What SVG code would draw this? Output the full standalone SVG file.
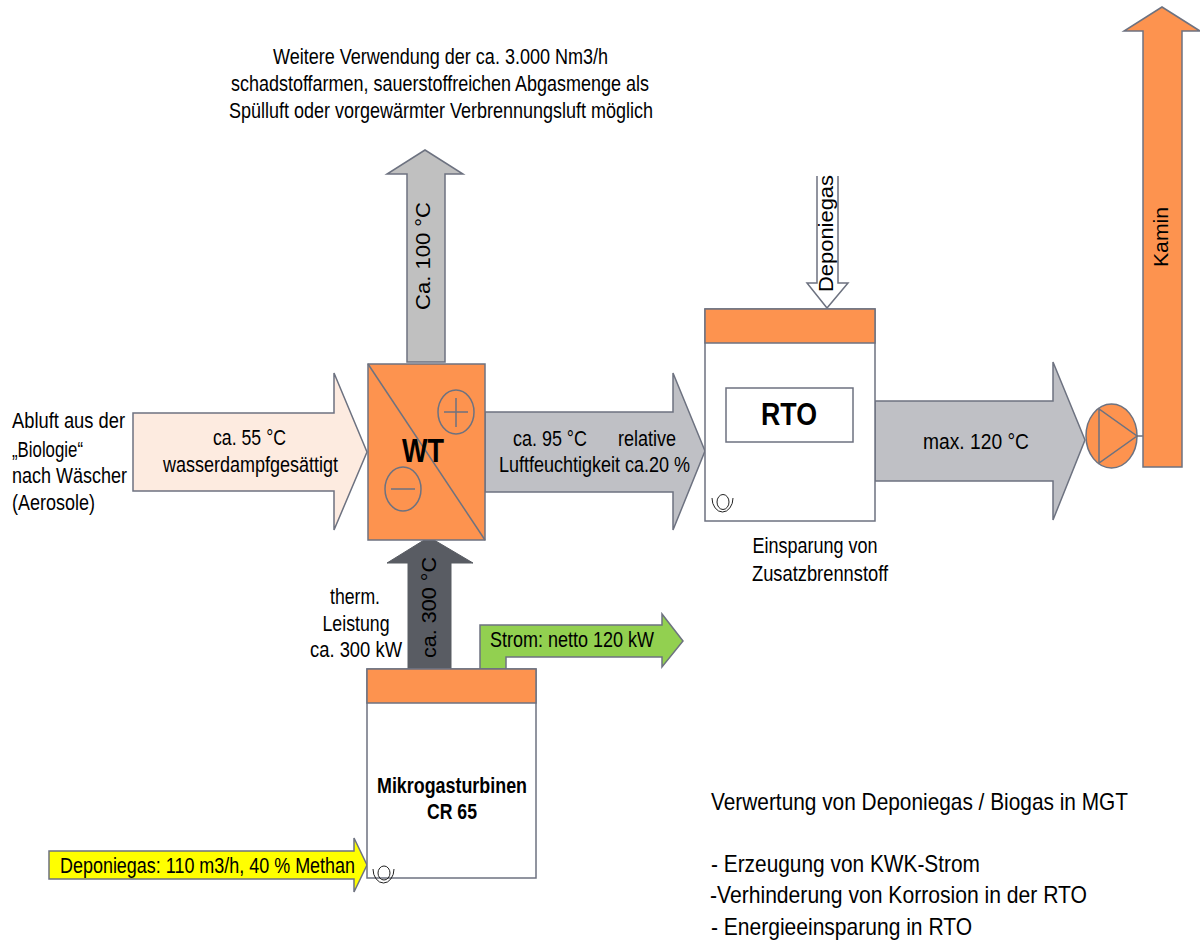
<svg xmlns="http://www.w3.org/2000/svg" width="1200" height="940" viewBox="0 0 1200 940">
<style>
text{font-family:"Liberation Sans",Arial,sans-serif;font-size:21.5px;fill:#000}
.m{text-anchor:middle}
.b{font-weight:bold}
.r{font-size:20px}
.l{font-size:24px}
.o{fill:#fd934f}
.s{stroke:#6d7280;stroke-width:1.5}
.g{fill:#bfc0c5}
.w{fill:#fff}
.n{fill:none}
.k{fill:none;stroke:#222;stroke-width:1}
</style>
<rect width="1200" height="940" fill="#fff"/>
<g id="connectors">
<path id="abluft" class="s" fill="#fdebe0" d="M133 413H334V373L367 452L334 530V491H133Z"/>
<path id="ca100" class="s" fill="#c0c0c0" d="M407 362V174H387L425 150L463 174H445V362Z"/>
<path id="ca95" class="s g" d="M485 412H673V373L705 451L673 530V492H485Z"/>
<path id="ca120" class="s g" d="M875 401H1053V362L1085 440L1053 520V481H875Z"/>
<path id="ca300" fill="#595c63" stroke="#595c63" d="M408 669V563H387L429 537L473 563H451V669Z"/>
<path id="strom" class="s" fill="#92d050" d="M480 669V625H662V614L683 641L662 667V657H506V669Z"/>
<path id="deponie1" class="s w" d="M817 176V283H807L827 308L848 283H838V176"/>
<path id="deponie2" class="s" fill="#ffff00" d="M49 851H354V838L367 865L354 892V879H49Z"/>
<path id="pipe" class="s n" d="M1137 436H1143"/>
<path id="kamin" class="s o" d="M1143 467V31H1124L1162 7L1200 31H1182V467Z"/>
</g>
<g id="wt">
<rect class="s o" x="368" y="364" width="117" height="176"/>
<path class="s n" d="M368 364L485 540"/>
<ellipse class="s n" cx="456" cy="412" rx="18" ry="22"/>
<path class="s n" d="M444 412H468M456 398V427"/>
<ellipse class="s n" cx="403" cy="489" rx="18" ry="22"/>
<path class="s n" d="M391 489H415"/>
<text class="m b" x="423" y="462" style="font-size:33px" textLength="42" lengthAdjust="spacingAndGlyphs">WT</text>
</g>
<g id="rto">
<rect class="s w" x="705" y="309" width="170" height="212"/>
<rect class="s o" x="705" y="309" width="170" height="34"/>
<rect class="s w" x="726" y="388" width="127" height="54"/>
<text class="m b" x="789" y="425" style="font-size:32px" textLength="56" lengthAdjust="spacingAndGlyphs">RTO</text>
<ellipse class="k" cx="723" cy="502" rx="6" ry="7.500"/>
<path class="k" d="M712 498A10.500 14 0 0 0 733 498"/>
</g>
<g id="mgt">
<rect class="s w" x="367" y="669" width="169" height="209"/>
<rect class="s o" x="367" y="669" width="169" height="34"/>
<text class="m b" x="452" y="793" textLength="150" lengthAdjust="spacingAndGlyphs">Mikrogasturbinen</text>
<text class="m b" x="452" y="819" textLength="50" lengthAdjust="spacingAndGlyphs">CR 65</text>
<ellipse class="k" cx="384" cy="873" rx="6" ry="7"/>
<path class="k" d="M373 869A10.500 14 0 0 0 394 869"/>
</g>
<g id="pump">
<ellipse class="s o" cx="1111.500" cy="436" rx="25.500" ry="32"/>
<path class="s n" d="M1099 409V463L1137 436Z"/>
</g>
<g id="labels">
<text x="273" y="64" textLength="335" lengthAdjust="spacingAndGlyphs">Weitere Verwendung der ca. 3.000 Nm3/h</text>
<text x="231" y="91" textLength="418" lengthAdjust="spacingAndGlyphs">schadstoffarmen, sauerstoffreichen Abgasmenge als</text>
<text x="229" y="118" textLength="424" lengthAdjust="spacingAndGlyphs">Spülluft oder vorgewärmter Verbrennungsluft möglich</text>
<text x="12" y="428" textLength="113" lengthAdjust="spacingAndGlyphs">Abluft aus der</text>
<text x="12" y="457" textLength="71" lengthAdjust="spacingAndGlyphs">„Biologie“</text>
<text x="12" y="483" textLength="115" lengthAdjust="spacingAndGlyphs">nach Wäscher</text>
<text x="12" y="510" textLength="83" lengthAdjust="spacingAndGlyphs">(Aerosole)</text>
<text class="m" x="249.500" y="445" textLength="73" lengthAdjust="spacingAndGlyphs">ca. 55 °C</text>
<text class="m" x="250.500" y="472" textLength="175" lengthAdjust="spacingAndGlyphs">wasserdampfgesättigt</text>
<text x="513" y="446" textLength="74" lengthAdjust="spacingAndGlyphs">ca. 95 °C</text>
<text x="618" y="446" textLength="58" lengthAdjust="spacingAndGlyphs">relative</text>
<text x="499" y="472" textLength="191" lengthAdjust="spacingAndGlyphs">Luftfeuchtigkeit ca.20 %</text>
<text class="m" x="976" y="449" textLength="106" lengthAdjust="spacingAndGlyphs">max. 120 °C</text>
<text class="m" x="815" y="553" textLength="125" lengthAdjust="spacingAndGlyphs">Einsparung von</text>
<text class="m" x="820" y="581" textLength="136" lengthAdjust="spacingAndGlyphs">Zusatzbrennstoff</text>
<text class="m" x="355" y="604" textLength="50" lengthAdjust="spacingAndGlyphs">therm.</text>
<text class="m" x="356" y="631" textLength="67" lengthAdjust="spacingAndGlyphs">Leistung</text>
<text class="m" x="356" y="657" textLength="92" lengthAdjust="spacingAndGlyphs">ca. 300 kW</text>
<text x="490" y="647" textLength="164" lengthAdjust="spacingAndGlyphs">Strom: netto 120 kW</text>
<text x="60" y="873" textLength="295" lengthAdjust="spacingAndGlyphs">Deponiegas: 110 m3/h, 40 % Methan</text>
<text class="r" transform="translate(430 310) rotate(-90)" textLength="108" lengthAdjust="spacingAndGlyphs">Ca. 100 °C</text>
<text class="r" transform="translate(436 658) rotate(-90)" textLength="101" lengthAdjust="spacingAndGlyphs">ca. 300 °C</text>
<text class="r" transform="translate(833 292) rotate(-90)" textLength="117" lengthAdjust="spacingAndGlyphs">Deponiegas</text>
<text class="r" transform="translate(1168 267) rotate(-90)" textLength="60" lengthAdjust="spacingAndGlyphs">Kamin</text>
<text class="l" x="711" y="810" textLength="417" lengthAdjust="spacingAndGlyphs">Verwertung von Deponiegas / Biogas in MGT</text>
<text class="l" x="711" y="872" textLength="269" lengthAdjust="spacingAndGlyphs">- Erzeugung von KWK-Strom</text>
<text class="l" x="710" y="903" textLength="377" lengthAdjust="spacingAndGlyphs">-Verhinderung von Korrosion in der RTO</text>
<text class="l" x="711" y="935" textLength="261" lengthAdjust="spacingAndGlyphs">- Energieeinsparung in RTO</text>
</g>
</svg>
